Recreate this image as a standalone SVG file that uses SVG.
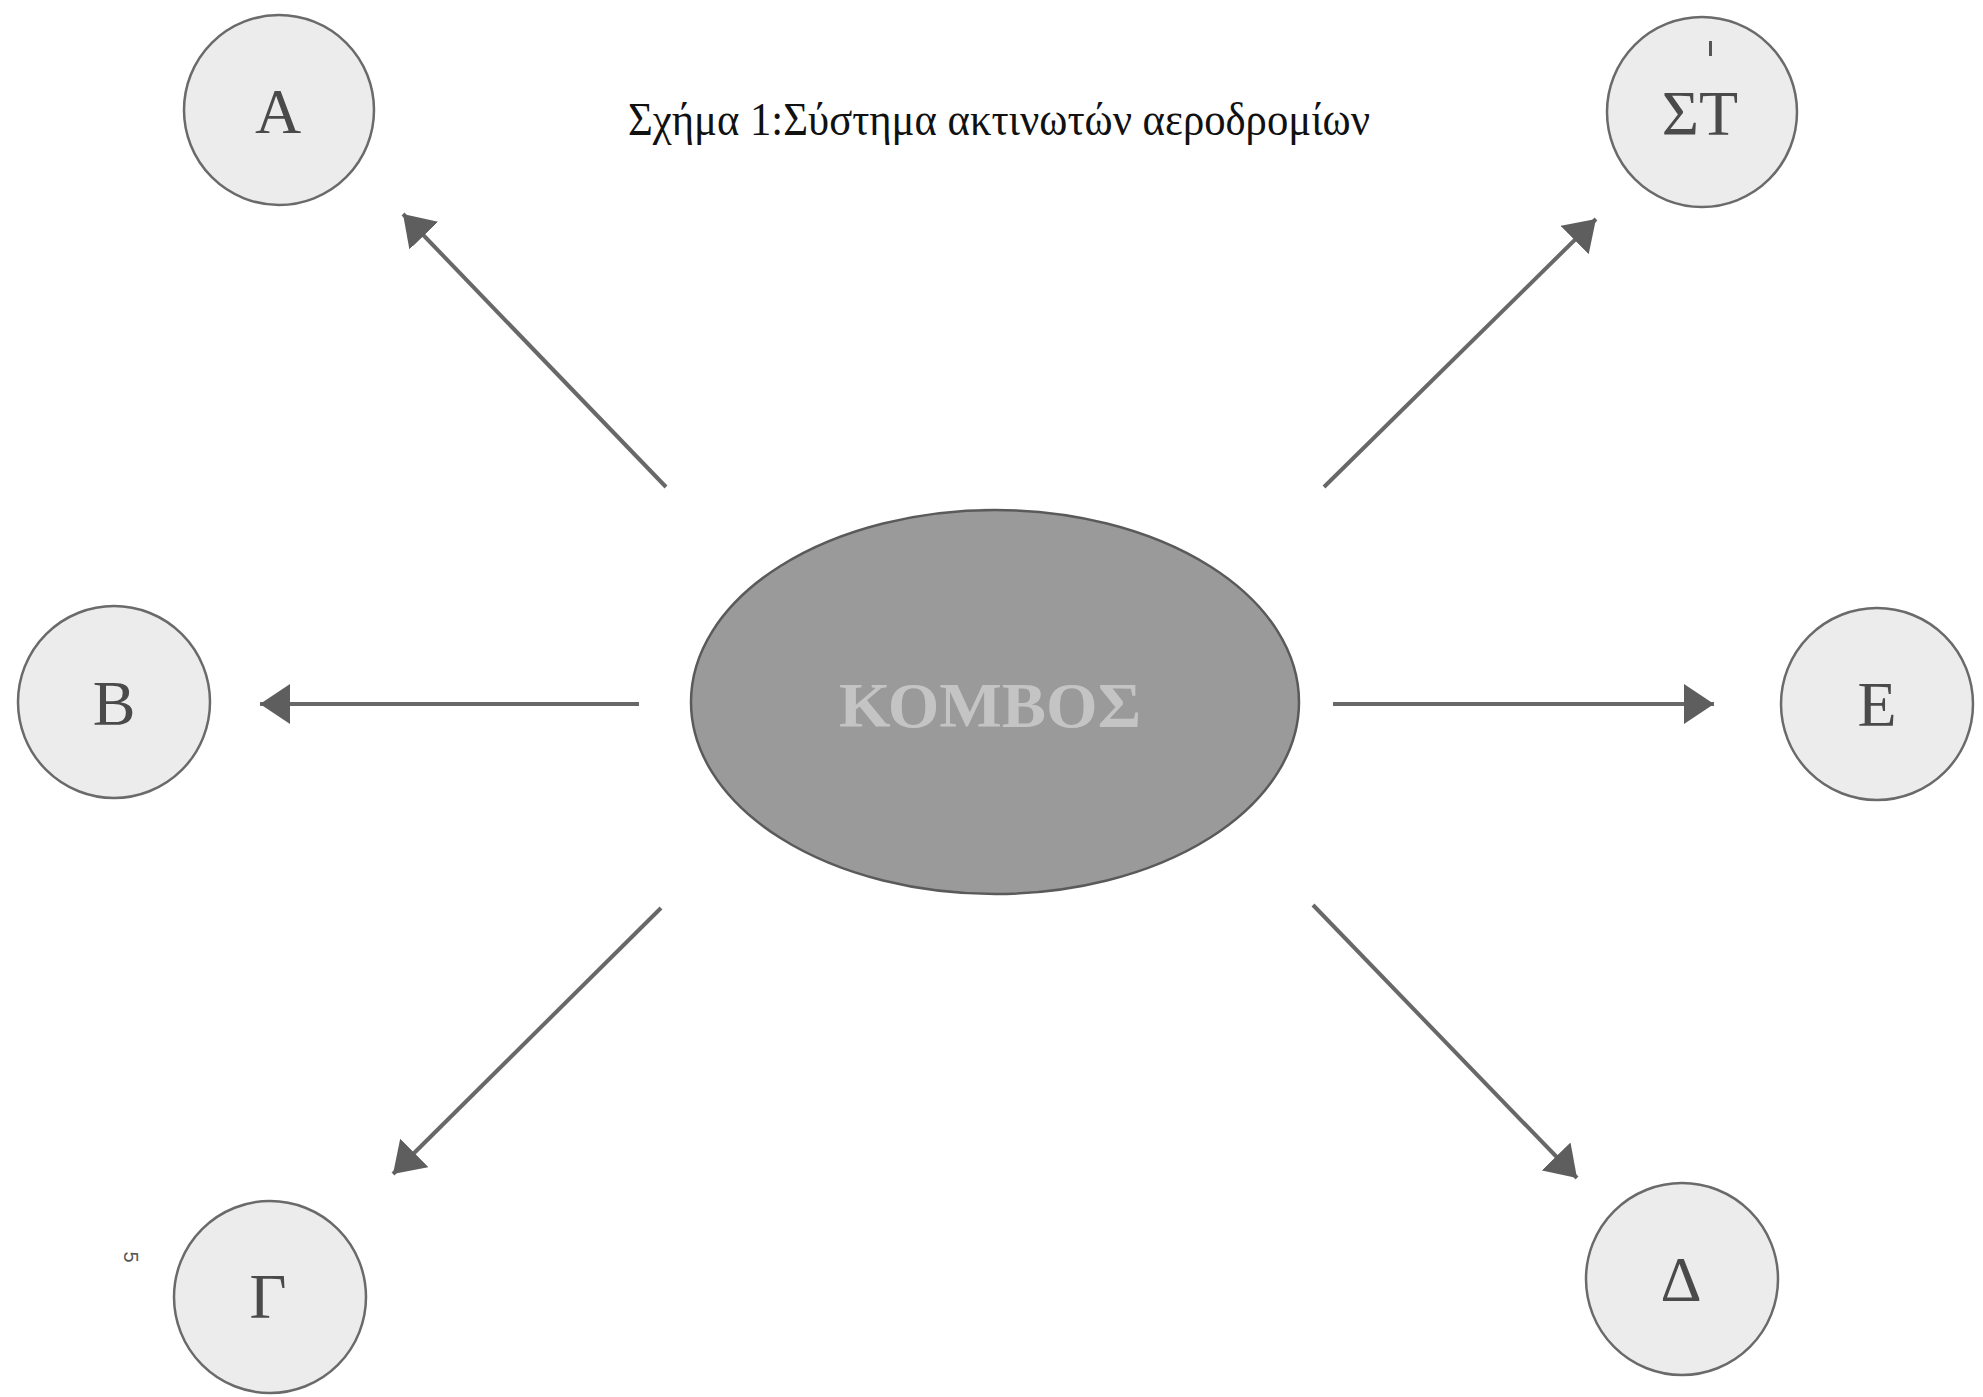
<svg xmlns="http://www.w3.org/2000/svg" width="1983" height="1397" viewBox="0 0 1983 1397">
<style>
.node{fill:#ececec;stroke:#6a6a6a;stroke-width:2.5}
.lbl{font-family:"Liberation Serif","Times New Roman",serif;font-size:64px;fill:#4a4a4a;text-anchor:middle}
.conn{stroke:#686868;stroke-width:4;fill:none;marker-end:url(#ah)}
</style>
<defs>
<marker id="ah" markerUnits="userSpaceOnUse" viewBox="0 0 30 40" refX="30" refY="20" markerWidth="30" markerHeight="40" orient="auto">
<path d="M0,0 L30,20 L0,40 Z" fill="#5e5e5e"/>
</marker>
</defs>
<rect width="1983" height="1397" fill="#ffffff"/>
<text x="999" y="135" font-family="'Liberation Serif','Times New Roman',serif" font-size="46" fill="#111" text-anchor="middle" textLength="742" lengthAdjust="spacingAndGlyphs">Σχήμα 1:Σύστημα ακτινωτών αεροδρομίων</text>
<g id="connectors">
<line class="conn" x1="666" y1="487" x2="403" y2="214"/>
<line class="conn" x1="1324" y1="487" x2="1596" y2="219"/>
<line class="conn" x1="639" y1="704" x2="260" y2="704"/>
<line class="conn" x1="1333" y1="704" x2="1714" y2="704"/>
<line class="conn" x1="661" y1="908" x2="393" y2="1174"/>
<line class="conn" x1="1313" y1="905" x2="1577" y2="1178"/>
</g>
<g id="node-kombos">
<ellipse cx="995" cy="702" rx="304" ry="192" fill="#9a9a9a" stroke="#5a5a5a" stroke-width="2.5"/>
<text x="990" y="727" font-family="'Liberation Serif','Times New Roman',serif" font-size="64" font-weight="bold" fill="#c4c4c4" text-anchor="middle" textLength="302" lengthAdjust="spacingAndGlyphs">ΚΟΜΒΟΣ</text>
</g>
<g id="node-A">
<circle class="node" cx="279" cy="110" r="95"/>
<text class="lbl" x="278" y="133">Α</text>
</g>
<g id="node-ST">
<circle class="node" cx="1702" cy="112" r="95"/>
<rect x="1709" y="41" width="3" height="15" fill="#555"/>
<text class="lbl" x="1700" y="135">ΣΤ</text>
</g>
<g id="node-B">
<circle class="node" cx="114" cy="702" r="96"/>
<text class="lbl" x="114" y="725">Β</text>
</g>
<g id="node-E">
<circle class="node" cx="1877" cy="704" r="96"/>
<text class="lbl" x="1877" y="726">Ε</text>
</g>
<g id="node-G">
<circle class="node" cx="270" cy="1297" r="96"/>
<text class="lbl" x="268" y="1318">Γ</text>
</g>
<g id="node-D">
<circle class="node" cx="1682" cy="1279" r="96"/>
<text class="lbl" x="1681" y="1301">Δ</text>
</g>
<text x="0" y="0" transform="translate(124,1257) rotate(90)" font-family="'Liberation Sans',Arial,sans-serif" font-size="20" fill="#555" text-anchor="middle">5</text>
</svg>
